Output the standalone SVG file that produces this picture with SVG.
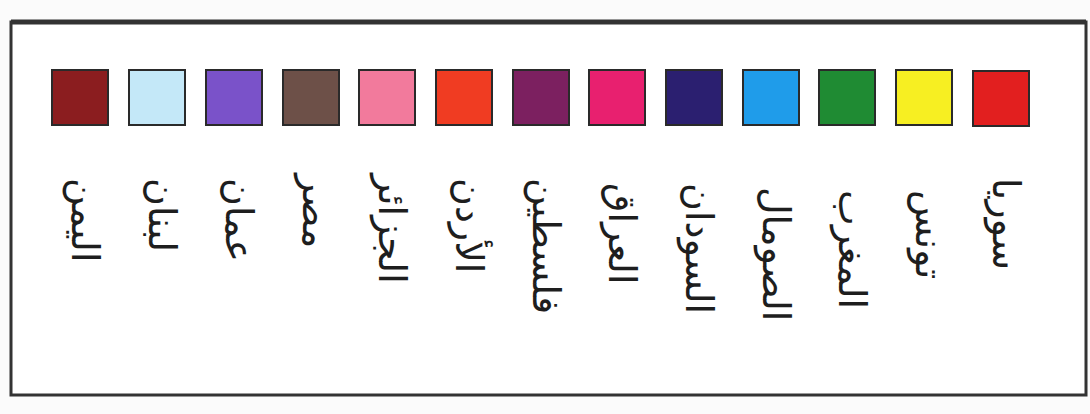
<svg xmlns="http://www.w3.org/2000/svg" width="1090" height="414" viewBox="0 0 1090 414">
<style>
.frame{fill:#fff;stroke:#333;stroke-width:3}
.sw{stroke:#2a2a2a;stroke-width:2}
.lbl{font-family:"DejaVu Sans",sans-serif;font-size:38px;fill:#1e1e1e;text-anchor:start}
</style>
<rect width="1090" height="414" fill="#fbfbfb"/>
<rect class="frame" x="11" y="22" width="1075" height="373"/>
<line x1="11" y1="22" x2="1086" y2="22" stroke="#333" stroke-width="5"/>
<g id="yemen"><rect class="sw" x="52" y="70" width="56" height="55" fill="#8b1d1f"/><text class="lbl" transform="translate(72,178) rotate(90)">اليمن</text></g>
<g id="lebanon"><rect class="sw" x="129" y="70" width="56" height="55" fill="#c4e8f8"/><text class="lbl" transform="translate(149,178) rotate(90)">لبنان</text></g>
<g id="oman"><rect class="sw" x="206" y="70" width="56" height="55" fill="#7a52c9"/><text class="lbl" transform="translate(226,178) rotate(90)">عمان</text></g>
<g id="egypt"><rect class="sw" x="283" y="70" width="56" height="55" fill="#6d5048"/><text class="lbl" transform="translate(303,174) rotate(90)">مصر</text></g>
<g id="algeria"><rect class="sw" x="359" y="70" width="56" height="55" fill="#f27a9c"/><text class="lbl" transform="translate(379,174) rotate(90)">الجزائر</text></g>
<g id="jordan"><rect class="sw" x="436" y="70" width="56" height="55" fill="#f03c22"/><text class="lbl" transform="translate(456,178) rotate(90)">الأردن</text></g>
<g id="palestine"><rect class="sw" x="513" y="70" width="56" height="55" fill="#7c2060"/><text class="lbl" transform="translate(533,178) rotate(90)">فلسطين</text></g>
<g id="iraq"><rect class="sw" x="589" y="70" width="56" height="55" fill="#e8206f"/><text class="lbl" transform="translate(609,183) rotate(90)">العراق</text></g>
<g id="sudan"><rect class="sw" x="666" y="70" width="56" height="55" fill="#2b1f70"/><text class="lbl" transform="translate(686,183) rotate(90)">السودان</text></g>
<g id="somalia"><rect class="sw" x="743" y="70" width="56" height="55" fill="#1f9cea"/><text class="lbl" transform="translate(763,187) rotate(90)">الصومال</text></g>
<g id="morocco"><rect class="sw" x="819" y="70" width="56" height="55" fill="#1f8b33"/><text class="lbl" transform="translate(839,190) rotate(90)">المغرب</text></g>
<g id="tunisia"><rect class="sw" x="896" y="70" width="56" height="55" fill="#f7ef22"/><text class="lbl" transform="translate(916,190) rotate(90)">تونس</text></g>
<g id="syria"><rect class="sw" x="973" y="71" width="56" height="55" fill="#e21f1f"/><text class="lbl" transform="translate(993,178) rotate(90)">سوريا</text></g>
<g id="connectors"/>
</svg>
